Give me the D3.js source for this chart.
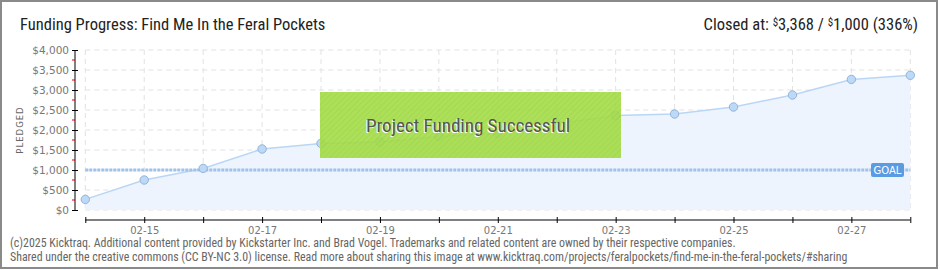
<!DOCTYPE html>
<html><head><meta charset="utf-8">
<script src="https://cdn.jsdelivr.net/npm/d3@7"></script>
<style>
html,body{margin:0;padding:0;background:#fff;}
svg{display:block;}
</style></head>
<body>
<svg id="chart" width="940" height="270"></svg>
<script>
const dates = ["02-14","02-15","02-16","02-17","02-18","02-19","02-20","02-21","02-22","02-23","02-24","02-25","02-26","02-27","02-28"];
const pledged = [265, 750, 1040, 1525, 1665, 1700, 1835, 1915, 2150, 2360, 2400, 2575, 2875, 3265, 3368];
const goal = [1000];
const yTicks = [0, 500, 1000, 1500, 2000, 2500, 3000, 3500, 4000];
const xLabelDates = ["02-15","02-17","02-19","02-21","02-23","02-25","02-27"];

const svg = d3.select("#chart");
const narrow = "'Liberation Sans Narrow', 'Roboto Condensed', sans-serif";
const small = "'DejaVu Sans', Verdana, sans-serif";

const x = d3.scalePoint().domain(dates).range([85.3, 910.3]);
const y = d3.scaleLinear().domain([0, 4000]).range([210, 50]);

// frame
svg.append("rect").attr("x",1).attr("y",1).attr("width",936).attr("height",267)
  .attr("fill","#fff").attr("stroke","#8a8a8a").attr("stroke-width",2);

// title
svg.append("text").attr("x",20).attr("y",30).attr("font-family",narrow).attr("font-size",16.5)
  .attr("fill","#222").text("Funding Progress: Find Me In the Feral Pockets");

const closed = svg.append("text").attr("x",918).attr("y",30).attr("text-anchor","end")
  .attr("font-family",narrow).attr("font-size",16.5).attr("fill","#222");
closed.append("tspan").text("Closed at:  ");
closed.append("tspan").attr("font-size",11).attr("dy",-4).text("$");
closed.append("tspan").attr("dy",4).text("3,368 /  ");
closed.append("tspan").attr("font-size",11).attr("dy",-4).text("$");
closed.append("tspan").attr("dy",4).text("1,000 (336%)");

// grid
const g = svg.append("g");
g.selectAll(".hg").data(yTicks).join("line")
  .attr("x1",85.3).attr("x2",910.3).attr("y1",d=>y(d)).attr("y2",d=>y(d))
  .attr("stroke","#e2e2e2").attr("stroke-dasharray","5,4");
g.selectAll(".vg").data(dates).join("line")
  .attr("x1",d=>x(d)).attr("x2",d=>x(d)).attr("y1",50).attr("y2",210)
  .attr("stroke","#e2e2e2").attr("stroke-dasharray","5,4");

// area + line
const area = d3.area().x((d,i)=>x(dates[i])).y0(y(0)).y1(d=>y(d));
const line = d3.line().x((d,i)=>x(dates[i])).y(d=>y(d));
svg.append("path").datum(pledged).attr("d",area).attr("fill","#edf4fd");
svg.append("path").datum(pledged).attr("d",line).attr("fill","none").attr("stroke","#b9d6f6").attr("stroke-width",1.5);

// goal line
svg.append("line").attr("x1",85.3).attr("x2",910.3).attr("y1",y(goal[0])).attr("y2",y(goal[0]))
  .attr("stroke","#9fc2ea").attr("stroke-width",3).attr("stroke-dasharray","3,1");

// points
svg.selectAll(".pt").data(pledged).join("circle")
  .attr("cx",(d,i)=>x(dates[i])).attr("cy",d=>y(d)).attr("r",4.2)
  .attr("fill","#bcd9f8").attr("stroke","#93b3d8").attr("stroke-width",1);

// goal label
svg.append("rect").attr("x",871).attr("y",163).attr("width",33).attr("height",14).attr("rx",2)
  .attr("fill","#5b9be2");
svg.append("text").attr("x",887.5).attr("y",174).attr("text-anchor","middle")
  .attr("font-family",small).attr("font-size",10).attr("fill","#fff").text("GOAL");

// y axis
const yAxis = d3.axisLeft(y).tickValues(yTicks).tickSize(3).tickFormat(d=>"$"+d3.format(",")(d));
const ya = svg.append("g").attr("transform","translate(75,0)").call(yAxis);
ya.select(".domain").attr("stroke","#000").attr("d","M0,50V210");
ya.selectAll(".tick line").attr("x1",-3).attr("x2",3).attr("stroke","#000");
ya.selectAll(".tick text").attr("x",-6).attr("font-family",small).attr("font-size",10.5).attr("fill","#777");
const minor = d3.range(250, 4000, 500);
svg.selectAll(".minor").data(minor).join("line")
  .attr("x1",72).attr("x2",75).attr("y1",d=>y(d)).attr("y2",d=>y(d)).attr("stroke","#e00000");

svg.append("text").attr("transform","translate(23,130) rotate(-90)").attr("text-anchor","middle")
  .attr("font-family",small).attr("font-size",8.5).attr("letter-spacing",1).attr("fill","#666").text("PLEDGED");

// x axis
const xAxis = d3.axisBottom(x).tickSize(3).tickFormat(d=>xLabelDates.includes(d)?d:"");
const xa = svg.append("g").attr("transform","translate(0,220)").call(xAxis);
xa.select(".domain").attr("stroke","#000").attr("d","M85.3,0H910.3");
xa.selectAll(".tick line").attr("y1",-3).attr("y2",3).attr("stroke","#000");
xa.selectAll(".tick text").attr("y",7).attr("font-family",small).attr("font-size",10).attr("fill","#777");

// success banner
const defs = svg.append("defs");
const pat = defs.append("pattern").attr("id","stripes").attr("width",4).attr("height",4)
  .attr("patternUnits","userSpaceOnUse").attr("patternTransform","rotate(45)");
pat.append("rect").attr("width",4).attr("height",4).attr("fill","#a3dc45");
pat.append("line").attr("x1",0).attr("x2",0).attr("y1",0).attr("y2",4).attr("stroke","#9ad23e").attr("stroke-width",1.5);
svg.append("rect").attr("x",320).attr("y",92).attr("width",301).attr("height",66)
  .attr("fill","url(#stripes)").attr("opacity",0.9);
svg.append("text").attr("x",467).attr("y",133).attr("text-anchor","middle")
  .attr("font-family",narrow).attr("font-size",19).attr("fill","#fff").text("Project Funding Successful");
svg.append("text").attr("x",468).attr("y",132).attr("text-anchor","middle")
  .attr("font-family",narrow).attr("font-size",19).attr("fill","#555").text("Project Funding Successful");

// footer
svg.append("text").attr("x",10).attr("y",247).attr("font-family",narrow).attr("font-size",11.9).attr("fill","#666")
  .text("(c)2025 Kicktraq. Additional content provided by Kickstarter Inc. and Brad Vogel. Trademarks and related content are owned by their respective companies.");
svg.append("text").attr("x",10).attr("y",261).attr("font-family",narrow).attr("font-size",11.9).attr("fill","#666")
  .text("Shared under the creative commons (CC BY-NC 3.0) license. Read more about sharing this image at www.kicktraq.com/projects/feralpockets/find-me-in-the-feral-pockets/#sharing");
</script>
</body></html>
